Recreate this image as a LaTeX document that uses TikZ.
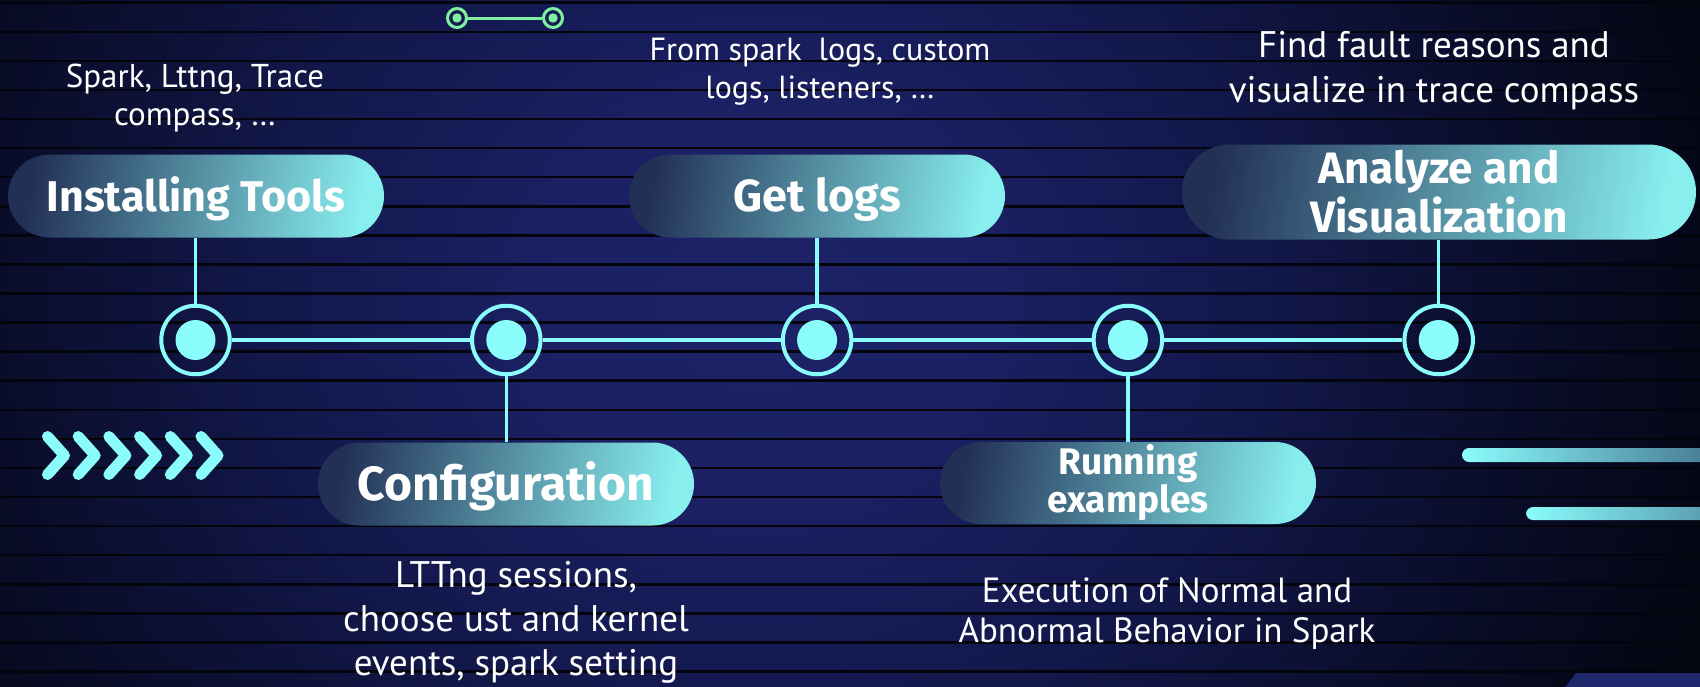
\documentclass[tikz,border=0pt]{standalone}
\usepackage{fontspec}
\setmainfont{PT Sans}
\newfontfamily\titlefont{Fira Sans}
\usetikzlibrary{shapes.misc}
\definecolor{cyanL}{RGB}{138,252,252}
\definecolor{pillA}{RGB}{34,48,86}
\definecolor{pillM}{RGB}{80,136,158}
\definecolor{pillB}{RGB}{136,238,238}
\definecolor{iconG}{RGB}{128,240,160}
\definecolor{stripeC}{RGB}{3,4,12}
\definecolor{bgC}{RGB}{28,34,102}
\definecolor{bgB}{RGB}{27,33,100}
\definecolor{bgM}{RGB}{18,24,74}
\definecolor{bgD}{RGB}{10,13,42}
\definecolor{bgE}{RGB}{4,6,18}
\definecolor{cornerC}{RGB}{30,38,108}
\definecolor{barEa}{RGB}{69,118,144}
\definecolor{barEb}{RGB}{86,151,171}
\pgfdeclareradialshading{bgshade}{\pgfpoint{0bp}{0bp}}{color(0bp)=(bgC); color(5bp)=(bgB); color(12.5bp)=(bgM); color(19bp)=(bgD); color(25bp)=(bgE); color(50bp)=(bgE)}
\tikzset{
  ring/.style={circle, draw=cyanL, line width=4pt, minimum size=68.5pt, inner sep=0pt},
  link/.style={draw=cyanL, line width=3.5pt},
  pill/.style={rounded rectangle, left color=pillA, middle color=pillM, right color=pillB, shading angle=80,
    text=white, inner sep=0pt, minimum width=376pt, minimum height=83pt, align=center},
  tfont/.style 2 args={font=\titlefont\bfseries\fontsize{#1}{#2}\selectfont},
  desc/.style={text=white, align=center, inner sep=0pt, anchor=base},
  chevron/.style={draw=cyanL, line width=11pt, line cap=round, line join=round},
  iconring/.style={circle, draw=iconG, line width=3pt, minimum size=19pt, inner sep=0pt},
  iconline/.style={draw=iconG, line width=3pt},
  bar/.style={rounded corners=7pt, left color=cyanL},
}
\begin{document}
\begin{tikzpicture}[x=1pt, y=-1pt]
\useasboundingbox (0,0) rectangle (1700,686);
\begin{scope}
  \clip (0,0) rectangle (1700,686);
  \path[shading=bgshade] (-240,-600) rectangle (1760,1200);
  \foreach \k in {0,...,23} {
    \fill[stripeC] (0,{2.7+29.08*\k-1.25}) rectangle (1700,{2.7+29.08*\k+1.25});
  }
  \fill[cornerC] (1576,673) -- (1710,673) -- (1710,690) -- (1563,690) -- cycle;
  \fill[bar, right color=barEa] (1462,448) rectangle (1720,462);
  \fill[bar, right color=barEb] (1526,507) rectangle (1720,520);
\end{scope}
% chevrons
\foreach \k in {0,...,5} {
  \draw[chevron] ({47.5+30.7*\k},436.5) -- ++(17,19) -- ++(-17,19);
}
% top icon
\node[iconring] (i1) at (457,18) {};
\node[iconring] (i2) at (553,18) {};
\fill[iconG] (i1.center) circle[radius=4.7pt];
\fill[iconG] (i2.center) circle[radius=4.7pt];
\draw[iconline] (i1) -- (i2);
% pills
\node[pill, tfont={43}{43}, text height=30pt, text depth=0pt] (p1) at (196,196) {Installing Tools};
\node[pill, tfont={45}{45}, text height=31pt, text depth=0pt] (p3) at (817,196) {Get logs};
\node[pill, tfont={44}{49}, minimum width=514pt, minimum height=95pt] (p5) at (1439,192) {Analyze and\\Visualization};
\node[pill, tfont={48}{48}, text height=33pt, text depth=0pt] (p2) at (506,484) {Configuration};
\node[pill, tfont={37}{38}, minimum height=82pt] (p4) at (1128,483) {Running\\examples};
% circles
\foreach \i/\x in {1/195.5,2/506.3,3/817.1,4/1127.9,5/1438.7} {
  \node[ring] (c\i) at (\x,340) {};
  \fill[cyanL] (c\i.center) circle[radius=20pt];
}
\draw[link] (c1) -- (c2);
\draw[link] (c2) -- (c3);
\draw[link] (c3) -- (c4);
\draw[link] (c4) -- (c5);
\draw[link] (c1.north) -- (c1.north |- p1.south);
\draw[link] (c2.south) -- (c2.south |- p2.north);
\draw[link] (c3.north) -- (c3.north |- p3.south);
\draw[link] (c4.south) -- (c4.south |- p4.north);
\draw[link] (c5.north) -- (c5.north |- p5.south);
% descriptions (anchor = baseline of the last line)
\node[desc, font=\fontsize{33}{38}\selectfont] (d1) at (195,125) {Spark, Lttng, Trace\\compass, …};
\node[desc, font=\fontsize{32}{38}\selectfont] (d3) at (820,98) {From spark\ \ logs, custom\\logs, listeners, …};
\node[desc, font=\fontsize{37}{45}\selectfont] (d5) at (1434,102) {Find fault reasons and\\visualize in trace compass};
\node[desc, font=\fontsize{37}{44}\selectfont] (d2) at (516,675) {LTTng sessions,\\choose ust and kernel\\events, spark setting};
\node[desc, font=\fontsize{35}{40}\selectfont] (d4) at (1167,642) {Execution of Normal and\\Abnormal Behavior in Spark};
\end{tikzpicture}
\end{document}
